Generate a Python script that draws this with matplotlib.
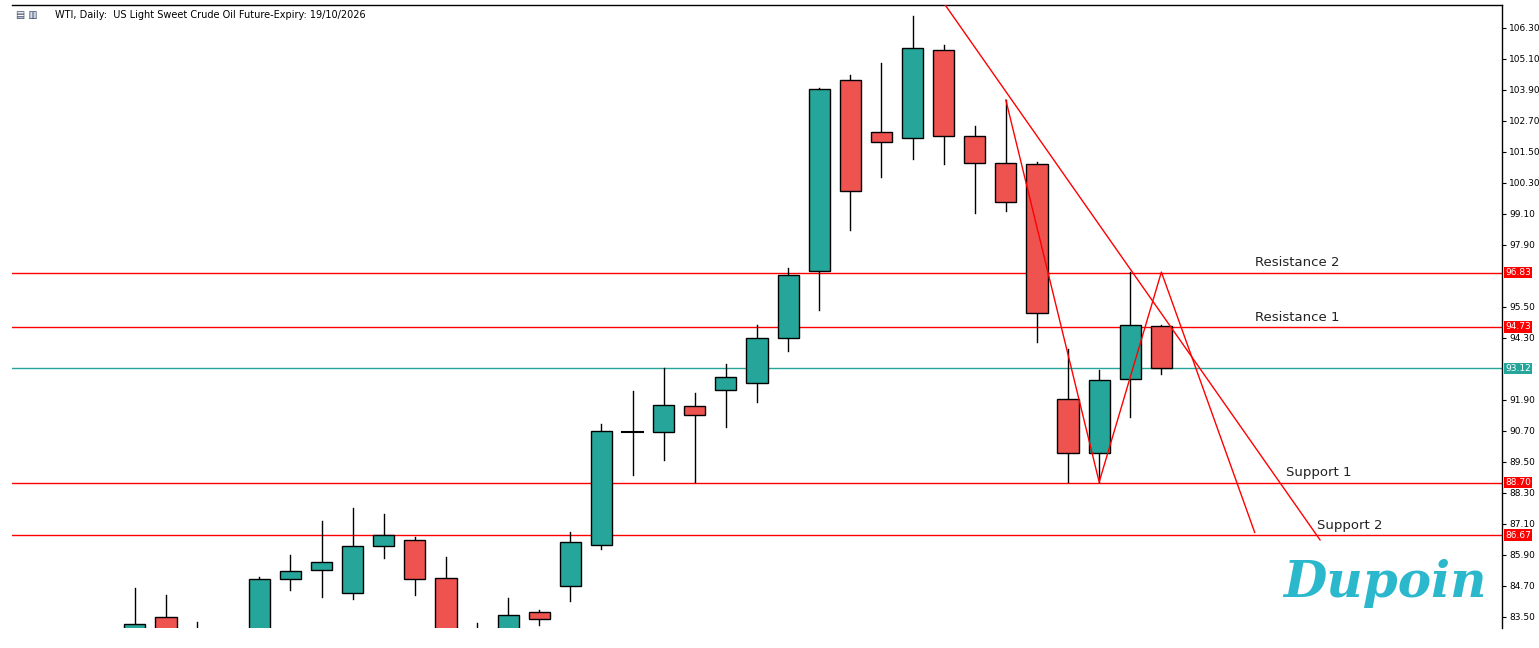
import matplotlib
matplotlib.use("Agg")
import matplotlib.pyplot as plt
from matplotlib.patches import Rectangle

opens  = [83.0, 83.5, 82.9, 82.7, 82.8, 84.97, 85.32, 84.43, 86.25, 86.48, 85.0, 82.7, 83.0, 83.69, 84.7, 86.28,
          90.66, 90.66, 91.67, 92.28, 92.56, 94.3, 96.89, 104.29, 102.27, 102.04, 105.45, 102.12, 101.07, 101.03,
          91.94, 89.85, 92.71, 94.76]
closes = [83.23, 83.0, 83.0, 82.9, 84.97, 85.28, 85.63, 86.25, 86.67, 84.97, 82.6, 82.9, 83.57, 83.42, 86.4, 90.7,
          90.67, 91.7, 91.32, 92.79, 94.3, 96.74, 103.94, 99.99, 101.89, 105.53, 102.12, 101.07, 99.56, 95.27,
          89.85, 92.67, 94.8, 93.14]
highs  = [84.62, 84.35, 83.3, 83.0, 85.05, 85.9, 87.2, 87.72, 87.5, 86.6, 85.82, 83.27, 84.23, 83.77, 86.8, 90.97,
          92.25, 93.14, 92.17, 93.3, 94.8, 97.0, 103.98, 104.48, 104.95, 106.77, 105.64, 102.5, 103.51, 101.11,
          93.87, 93.06, 96.85, 94.8]
lows   = [82.8, 82.8, 82.7, 82.5, 82.7, 84.54, 84.27, 84.2, 85.78, 84.35, 82.4, 82.5, 82.8, 83.2, 84.12, 86.13,
          88.99, 89.58, 88.72, 90.85, 91.82, 93.8, 95.38, 98.48, 100.53, 101.23, 101.03, 99.14, 99.22, 94.14,
          88.72, 88.72, 91.24, 92.9]

levels = [96.83, 94.73, 93.12, 88.70, 86.67]
level_colors = ["#ff0000", "#ff0000", "#26a69a", "#ff0000", "#ff0000"]
level_names = ["Resistance 2", "Resistance 1", None, "Support 1", "Support 2"]
name_x = [36.0, 36.0, None, 37.0, 38.0]

trend_x = [26.05, 38.1]
trend_y = [107.19, 86.48]
zig_x = [28, 31, 33, 36.0]
zig_y = [103.51, 88.72, 96.85, 86.77]

ticks = [106.3, 105.1, 103.9, 102.7, 101.5, 100.3, 99.1, 97.9, 95.5, 94.3, 91.9, 90.7, 89.5, 88.3, 87.1, 85.9, 84.7, 83.5]

fig = plt.figure(figsize=(15.39, 6.48), dpi=100)
ax = fig.add_axes([12/1539, 1-628/648, (1502-12)/1539, (628-5)/648])
ax.set_xlim(-3.95, 43.95)
ax.set_ylim(83.07, 107.19)

green, red = "#26a69a", "#ef5350"
w = 0.68
for i, (o, c, h, l) in enumerate(zip(opens, closes, highs, lows)):
    ax.plot([i, i], [l, h], color="black", lw=1, zorder=2)
    if abs(c - o) < 0.05:
        ax.plot([i - w/2, i + w/2], [o, o], color="black", lw=1.5, zorder=3)
    else:
        col = green if c > o else red
        ax.add_patch(Rectangle((i - w/2, min(o, c)), w, abs(c - o), facecolor=col,
                               edgecolor="black", lw=1, zorder=3))

for lv, lc, nm, nx in zip(levels, level_colors, level_names, name_x):
    ax.axhline(lv, color=lc, lw=1, zorder=1)
    ax.text(1.002, lv, f"{lv:.2f}", transform=ax.get_yaxis_transform(), color="white", fontsize=6.5,
            va="center", ha="left",
            bbox=dict(boxstyle="square,pad=0.15", fc=lc, ec="none"), zorder=5, clip_on=False)
    if nm:
        ax.text(nx, lv + 0.12, nm, fontsize=9.5, color="#222222", ha="left", va="bottom")

ax.plot(trend_x, trend_y, color="#ff0000", lw=1, zorder=4)
ax.plot(zig_x, zig_y, color="#ff0000", lw=1, zorder=4)

ax.yaxis.tick_right()
ax.set_yticks(ticks)
ax.set_yticklabels([f"{t:.2f}" for t in ticks], fontsize=6.5)
ax.tick_params(axis="y", length=3, pad=2)
ax.set_xticks([])
for s in ["left", "bottom"]:
    ax.spines[s].set_visible(False)
ax.spines["top"].set_linewidth(1)
ax.spines["right"].set_linewidth(1)

fig.text(55/1539, 1-15/648, "WTI, Daily:  US Light Sweet Crude Oil Future-Expiry: 19/10/2026",
         fontsize=7, va="center", ha="left")
fig.text(16/1539, 1-15/648, "▤ ▥", fontsize=7, va="center", ha="left", color="#334466")
fig.text(1385/1539, 1-583/648, "Dupoin", fontsize=36, style="italic", fontweight="bold",
         color="#2bb8cc", ha="center", va="center", family="DejaVu Serif", zorder=6)

fig.savefig("out.png", dpi=100)
